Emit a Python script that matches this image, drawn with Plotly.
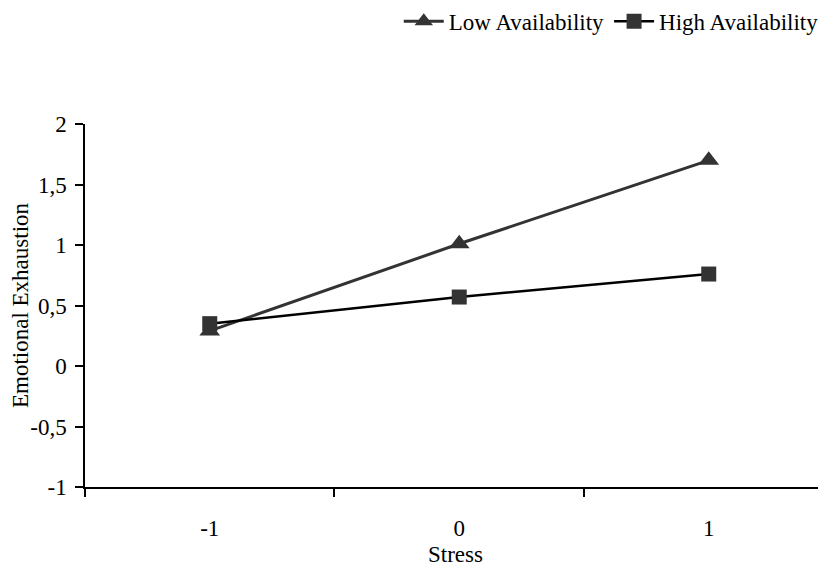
import plotly.graph_objects as go

stress = [-1, 0, 1]
stress_labels = ["-1", "0", "1"]
low_avail = [0.29, 1.01, 1.70]
high_avail = [0.35, 0.57, 0.76]
y_ticks = [-1, -0.5, 0, 0.5, 1, 1.5, 2]
y_tick_labels = ["-1", "-0,5", "0", "0,5", "1", "1,5", "2"]

font = "Liberation Serif, Times New Roman, serif"
fs = 23

fig = go.Figure()
fig.add_trace(go.Scatter(
    x=stress, y=low_avail, name="Low Availability", mode="lines+markers",
    line=dict(color="#333333", width=3),
    marker=dict(symbol="triangle-up", size=18, color="#333333"),
))
fig.add_trace(go.Scatter(
    x=stress, y=high_avail, name="High Availability", mode="lines+markers",
    line=dict(color="#000000", width=2.5),
    marker=dict(symbol="square", size=15, color="#333333"),
))

# page body has an 8px margin, so the figure is sized/placed to compensate
fig.update_layout(
    width=818, height=559,
    margin=dict(l=77, r=0, t=116, b=80, autoexpand=False),
    plot_bgcolor="white", paper_bgcolor="white",
    font=dict(family=font, size=fs, color="#000"),
    showlegend=True,
    legend=dict(orientation="h", x=0.997, xanchor="right", y=1.283, yanchor="middle",
                font=dict(family=font, size=fs),
                itemwidth=40, tracegroupgap=0, borderwidth=0,
                bgcolor="rgba(0,0,0,0)"),
    xaxis=dict(
        range=[-1.5, 1.47], showgrid=False, zeroline=False,
        showline=True, linecolor="#000", linewidth=1.5,
        tickvals=stress, ticktext=stress_labels, ticks="",
        ticklabelstandoff=20,
        minor=dict(tickvals=[-1.5, -0.5, 0.5, 1.5], ticks="outside",
                   ticklen=8, tickcolor="#000", tickwidth=1.5),
        title=dict(text="Stress", font=dict(family=font, size=fs), standoff=10),
        fixedrange=True,
    ),
    yaxis=dict(
        range=[-1, 2], showgrid=False, zeroline=False,
        showline=True, linecolor="#000", linewidth=1.5,
        tickvals=y_ticks, ticktext=y_tick_labels,
        ticks="outside", ticklen=8, tickcolor="#000", tickwidth=1.5,
        ticklabelstandoff=4,
        title=dict(text="Emotional Exhaustion", font=dict(family=font, size=fs), standoff=4),
        fixedrange=True,
    ),
)

fig.write_html("out.html")
